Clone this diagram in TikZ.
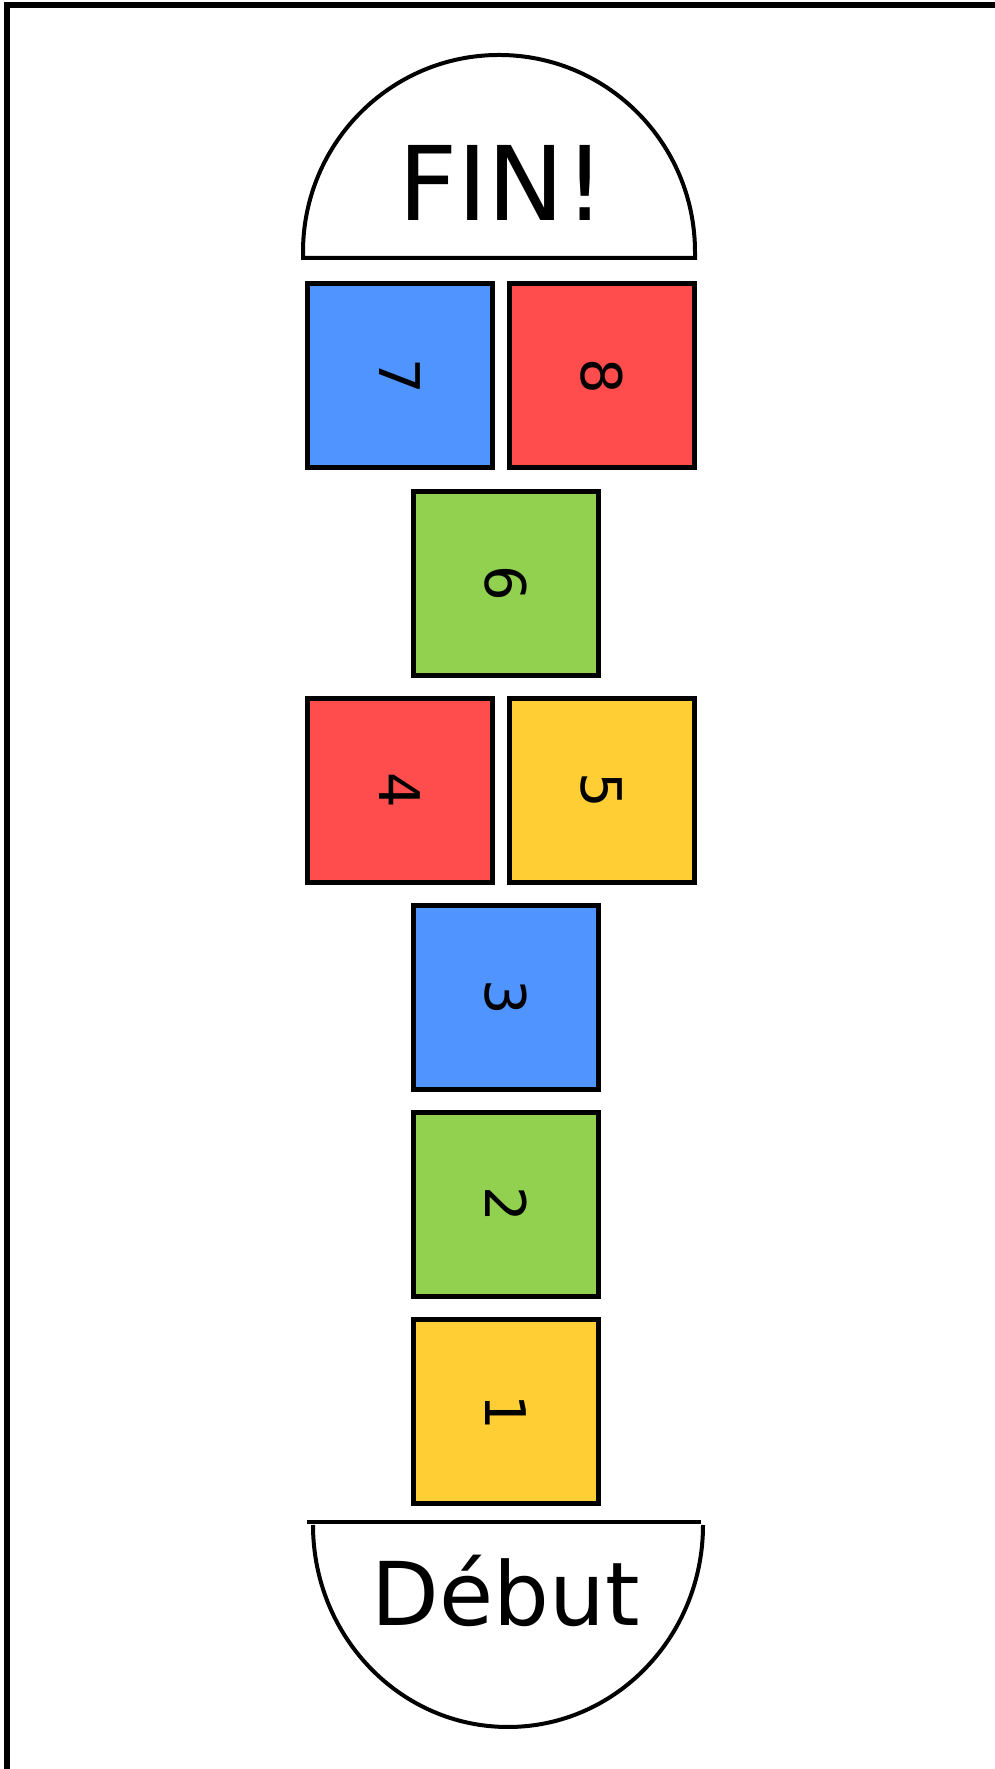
\documentclass[tikz,border=0pt]{standalone}
\usepackage{fontspec}
\setmainfont{DejaVu Sans}
\definecolor{hblue}{HTML}{5094FF}
\definecolor{hred}{HTML}{FF4D4D}
\definecolor{hgreen}{HTML}{92D050}
\definecolor{hyellow}{HTML}{FFCE34}
\tikzset{
  cell/.style={draw=black, line width=5pt, minimum width=185pt, minimum height=184pt, inner sep=0pt},
  num/.style={rotate=-90, font=\fontsize{56}{56}\selectfont},
  capline/.style={draw=black, line width=4pt, fill=white},
  frameline/.style={draw=black, line width=6.5pt}
}
\begin{document}
\begin{tikzpicture}[x=1pt,y=1pt]
\useasboundingbox (0,0) rectangle (995,1769);
% frame (left and top only)
\draw[frameline] (7,-3) -- (7,1764) -- (998,1764);
% FIN cap
\path[capline] (303,1511) -- (303,1517) arc[start angle=180,end angle=0,x radius=196pt,y radius=197pt] -- (695,1511) -- cycle;
\node (fin) at (502,1586) {\fontsize{103}{103}\selectfont FIN!};
% cells
\node[cell, fill=hblue]   (c7) at (400,1393) {};
\node[cell, fill=hred]    (c8) at (602,1393) {};
\node[cell, fill=hgreen]  (c6) at (506,1185.8) {};
\node[cell, fill=hred]    (c4) at (400,978.6) {};
\node[cell, fill=hyellow] (c5) at (602,978.6) {};
\node[cell, fill=hblue]   (c3) at (506,771.4) {};
\node[cell, fill=hgreen]  (c2) at (506,564.2) {};
\node[cell, fill=hyellow] (c1) at (506,357) {};
\node[num] at (c7) {7};
\node[num] at (c8) {8};
\node[num] at (c6) {6};
\node[num] at (c4) {4};
\node[num] at (c5) {5};
\node[num] at (c3) {3};
\node[num] at (c2) {2};
\node[num] at (c1) {1};
% Debut cap
\path[fill=white] (313,244) arc[start angle=180,end angle=360,x radius=195pt,y radius=202pt] -- cycle;
\draw[line width=4pt] (313,244) arc[start angle=180,end angle=360,x radius=195pt,y radius=202pt];
\draw[line width=4pt] (307,247) -- (701,247);
\node (debut) at (506,178) {\fontsize{88}{88}\selectfont Début};
\end{tikzpicture}
\end{document}
